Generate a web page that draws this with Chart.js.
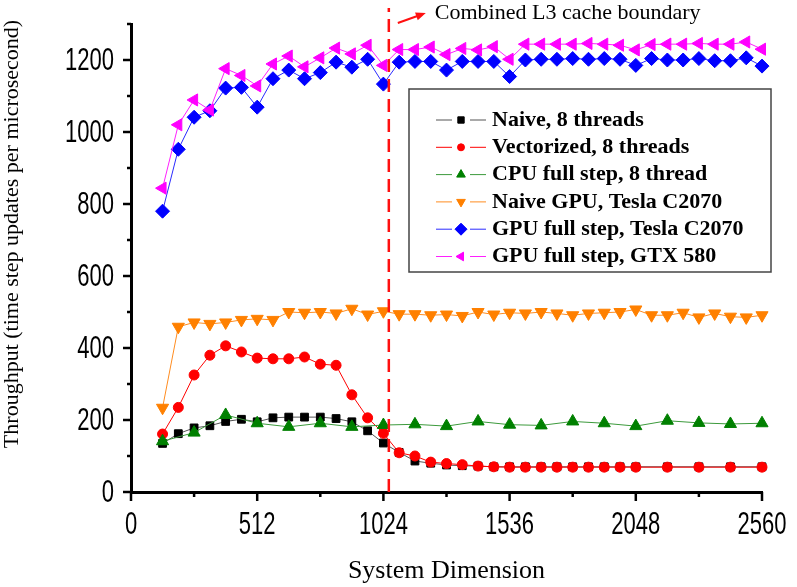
<!DOCTYPE html>
<html>
<head>
<meta charset="utf-8">
<script src="https://cdn.jsdelivr.net/npm/chart.js@4/dist/chart.umd.min.js"></script>
<style>
html, body { margin: 0; padding: 0; background: #fff; }
</style>
</head>
<body>
<canvas id="myChart" width="797" height="587"></canvas>
<script>
// system dimensions sampled by each run
var dimsFine = [128, 192, 256, 320, 384, 448, 512, 576, 640, 704, 768, 832, 896, 960, 1024,
    1088, 1152, 1216, 1280, 1344, 1408, 1472, 1536, 1600, 1664, 1728, 1792, 1856, 1920, 1984,
    2048, 2112, 2176, 2240, 2304, 2368, 2432, 2496, 2560];
var dimsCpu = [128, 192, 256, 320, 384, 448, 512, 576, 640, 704, 768, 832, 896, 960, 1024,
    1088, 1152, 1216, 1280, 1344, 1408, 1472, 1536, 1600, 1664, 1728, 1792, 1856, 1920, 1984,
    2048, 2176, 2304, 2432, 2560];
var dimsCoarse = [128, 256, 384, 512, 640, 768, 896, 1024, 1152, 1280, 1408, 1536, 1664, 1792,
    1920, 2048, 2176, 2304, 2432, 2560];

// throughput values (time step updates per microsecond)
var naive8 = [135, 162, 178, 184, 196, 202, 195, 206, 208, 208, 208, 204, 195, 170, 136,
    110, 86, 80, 75, 73, 72, 70, 70, 70, 70, 70, 70, 70, 70, 70, 70, 70, 70, 70, 70];
var vectorized8 = [161, 235, 325, 380, 406, 389, 372, 370, 370, 375, 355, 352, 270, 206, 163,
    109, 100, 83, 79, 76, 72, 70, 69, 69, 69, 69, 69, 69, 69, 69, 69, 69, 69, 69, 69];
var cpuFull8 = [141, 165, 214, 191, 181, 191, 181, 186, 188, 183, 196, 187, 185, 196, 191,
    183, 198, 192, 189, 191];
var naiveGpu = [234, 459, 471, 467, 471, 478, 481, 478, 500, 498, 500, 496, 509, 493, 502,
    494, 494, 491, 493, 489, 500, 493, 498, 496, 500, 496, 491, 496, 498, 500,
    507, 491, 491, 498, 485, 496, 487, 485, 491];
var gpuFullTesla = [780, 952, 1041, 1059, 1122, 1124, 1069, 1148, 1172, 1148, 1165, 1194, 1180, 1202, 1133,
    1194, 1196, 1196, 1172, 1196, 1196, 1196, 1154, 1200, 1202, 1202, 1204, 1202, 1204, 1202,
    1185, 1204, 1200, 1200, 1204, 1198, 1198, 1206, 1183];
var gpuFullGtx = [844, 1020, 1089, 1061, 1176, 1157, 1128, 1189, 1211, 1181, 1206, 1233, 1217, 1241, 1185,
    1229, 1229, 1236, 1215, 1232, 1228, 1237, 1202, 1244, 1244, 1244, 1244, 1246, 1244, 1241,
    1228, 1243, 1244, 1244, 1246, 1244, 1244, 1250, 1230];

var seriesLabels = ['Naive, 8 threads', 'Vectorized, 8 threads', 'CPU full step, 8 thread',
    'Naive GPU, Tesla C2070', 'GPU full step, Tesla C2070', 'GPU full step, GTX 580'];
var cacheBoundary = 1046;
var xTicksMajor = 512;
var yTicksMajor = 200;

var serif = '"Liberation Serif", "Times New Roman", serif';
var sans = '"Liberation Sans", Arial, sans-serif';

function toPoints(xs, ys) {
    return xs.map(function(x, i) { return { x: x, y: ys[i] }; });
}

function makeSeries(label, xs, ys, color, lineColor, style, rot, radius, legendRadius, order) {
    return {
        label: label,
        data: toPoints(xs, ys),
        borderColor: lineColor,
        backgroundColor: color,
        borderWidth: 1,
        pointStyle: style,
        pointRotation: rot,
        pointRadius: radius,
        pointHoverRadius: radius,
        pointBackgroundColor: color,
        pointBorderColor: color,
        pointBorderWidth: 1,
        legendRadius: legendRadius,
        tension: 0,
        clip: false,
        order: order
    };
}

// narrow text, like the condensed tick font of the original
function narrowText(ctx, text, x, y, align) {
    ctx.save();
    ctx.translate(x, y);
    ctx.scale(0.71, 1);
    ctx.textAlign = align;
    ctx.fillText(text, 0, 0);
    ctx.restore();
}

// axis ticks, tick labels and the y title
var axisTicks = {
    id: 'axisTicks',
    afterDraw: function(chart) {
        var ctx = chart.ctx;
        var xs = chart.scales.x, ys = chart.scales.y;
        ctx.save();
        ctx.strokeStyle = '#000';
        ctx.fillStyle = '#000';
        ctx.lineWidth = 2.5;
        ctx.font = '31px ' + sans;
        ctx.textBaseline = 'alphabetic';
        xs.ticks.forEach(function(t) {
            var px = xs.getPixelForValue(t.value);
            var major = t.value % xTicksMajor === 0;
            ctx.beginPath();
            ctx.moveTo(px, xs.top);
            ctx.lineTo(px, xs.top + (major ? 9 : 5));
            ctx.stroke();
            if (major) narrowText(ctx, String(t.value), px, xs.top + 42, 'center');
        });
        ys.ticks.forEach(function(t) {
            var py = ys.getPixelForValue(t.value);
            var major = t.value % yTicksMajor === 0;
            ctx.beginPath();
            ctx.moveTo(ys.right, py);
            ctx.lineTo(ys.right - (major ? 8 : 4), py);
            ctx.stroke();
            if (major) narrowText(ctx, String(t.value), ys.right - 17, py + 10, 'right');
        });
        // y axis title
        ctx.font = '22px ' + serif;
        ctx.textAlign = 'center';
        ctx.textBaseline = 'middle';
        ctx.translate(12, 234);
        ctx.rotate(-Math.PI / 2);
        ctx.fillText('Throughput (time step updates per microsecond)', 0, 0);
        ctx.restore();
    }
};

// dashed L3 boundary with its note
var cacheLine = {
    id: 'cacheLine',
    afterDatasetsDraw: function(chart) {
        var ctx = chart.ctx;
        var xs = chart.scales.x, ys = chart.scales.y;
        var px = xs.getPixelForValue(cacheBoundary);
        ctx.save();
        ctx.strokeStyle = '#ff1010';
        ctx.lineWidth = 2.5;
        ctx.setLineDash([13, 7]);
        ctx.beginPath();
        ctx.moveTo(px, ys.bottom);
        ctx.lineTo(px, 8);
        ctx.stroke();
        ctx.setLineDash([]);
        // arrow
        var x1 = px + 9, y1 = 23, x2 = px + 37, y2 = 13;
        var a = Math.atan2(y2 - y1, x2 - x1);
        ctx.lineWidth = 2;
        ctx.beginPath();
        ctx.moveTo(x1, y1);
        ctx.lineTo(x2 - 6 * Math.cos(a), y2 - 6 * Math.sin(a));
        ctx.stroke();
        ctx.fillStyle = '#ff1010';
        ctx.beginPath();
        ctx.moveTo(x2, y2);
        ctx.lineTo(x2 - 10 * Math.cos(a) + 4 * Math.sin(a), y2 - 10 * Math.sin(a) - 4 * Math.cos(a));
        ctx.lineTo(x2 - 10 * Math.cos(a) - 4 * Math.sin(a), y2 - 10 * Math.sin(a) + 4 * Math.cos(a));
        ctx.closePath();
        ctx.fill();
        ctx.fillStyle = '#000';
        ctx.font = '22px ' + serif;
        ctx.textAlign = 'left';
        ctx.textBaseline = 'middle';
        ctx.fillText('Combined L3 cache boundary', px + 46, 13);
        ctx.restore();
    }
};

// boxed legend inside the plot
var legendBox = {
    id: 'legendBox',
    afterDraw: function(chart) {
        var ctx = chart.ctx;
        ctx.save();
        ctx.fillStyle = '#fff';
        ctx.fillRect(409, 89, 362, 183);
        ctx.strokeStyle = '#444';
        ctx.lineWidth = 1.5;
        ctx.strokeRect(409, 89, 362, 183);
        ctx.font = 'bold 22px ' + serif;
        ctx.textAlign = 'left';
        ctx.textBaseline = 'middle';
        chart.data.datasets.forEach(function(ds, i) {
            var y = 120 + i * 27.3;
            ctx.strokeStyle = ds.borderColor;
            ctx.lineWidth = 1;
            ctx.beginPath();
            ctx.moveTo(436, y); ctx.lineTo(452, y);
            ctx.moveTo(470, y); ctx.lineTo(486, y);
            ctx.stroke();
            ctx.fillStyle = ds.pointBackgroundColor;
            ctx.strokeStyle = ds.pointBorderColor;
            Chart.helpers.drawPoint(ctx, {
                pointStyle: ds.pointStyle,
                rotation: ds.pointRotation,
                radius: ds.legendRadius,
                borderWidth: 1
            }, 461, y);
            ctx.fillStyle = '#000';
            ctx.fillText(ds.label, 492, y);
        });
        ctx.restore();
    }
};

var ctx = document.getElementById('myChart').getContext('2d');
var chart = new Chart(ctx, {
    type: 'line',
    data: {
        datasets: [
            makeSeries(seriesLabels[0], dimsCpu, naive8, '#000000', '#555555', 'rect', 0, 5.5, 4.5, 6),
            makeSeries(seriesLabels[1], dimsCpu, vectorized8, '#ff0000', '#ff0000', 'circle', 0, 5, 3.5, 5),
            makeSeries(seriesLabels[2], dimsCoarse, cpuFull8, '#008000', '#3c9a3c', 'triangle', 0, 7, 5, 4),
            makeSeries(seriesLabels[3], dimsFine, naiveGpu, '#ff8000', '#ff8c20', 'triangle', 180, 7, 5, 3),
            makeSeries(seriesLabels[4], dimsFine, gpuFullTesla, '#0000ff', '#2a2aff', 'rectRot', 0, 7, 6, 2),
            makeSeries(seriesLabels[5], dimsFine, gpuFullGtx, '#ff00ff', '#ff20ff', 'triangle', 270, 7, 5, 1)
        ]
    },
    options: {
        responsive: false,
        animation: false,
        layout: { padding: { left: 0, top: 24, right: 35, bottom: 0 } },
        plugins: {
            legend: { display: false },
            tooltip: { enabled: false }
        },
        scales: {
            x: {
                type: 'linear',
                min: 0,
                max: 2560,
                grid: { display: false },
                border: { display: true, color: '#000', width: 3 },
                ticks: { display: false, stepSize: 256, autoSkip: false },
                title: {
                    display: true,
                    text: 'System Dimension',
                    color: '#000',
                    font: { family: serif, size: 26 },
                    padding: 0
                },
                afterFit: function(s) { s.height = 95; }
            },
            y: {
                min: 0,
                max: 1300,
                grid: { display: false },
                border: { display: true, color: '#000', width: 3 },
                ticks: { display: false, stepSize: 100, autoSkip: false },
                afterFit: function(s) { s.width = 131; }
            }
        }
    },
    plugins: [axisTicks, cacheLine, legendBox]
});
</script>
</body>
</html>
